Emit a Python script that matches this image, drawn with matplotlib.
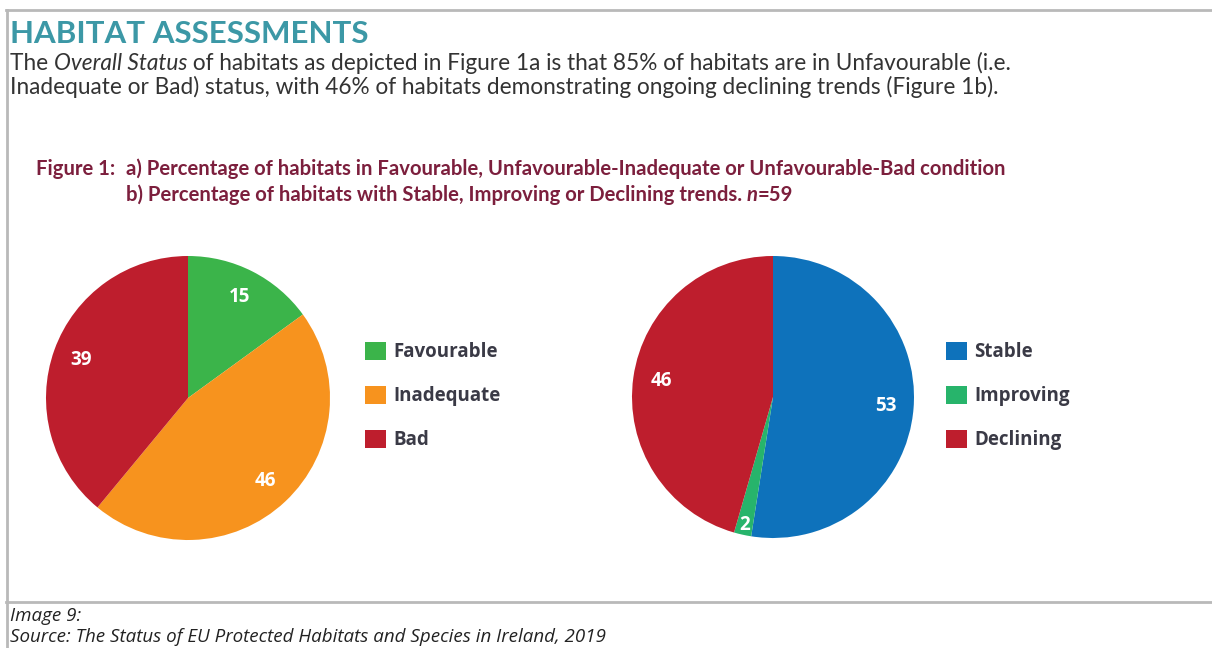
import matplotlib
matplotlib.use('Agg')
import matplotlib.pyplot as plt
from matplotlib.lines import Line2D
from matplotlib.patches import Patch
import numpy as np

# Figure 1a: overall status of habitats (%)
status_labels = ['Favourable', 'Inadequate', 'Bad']
status_values = [15, 46, 39]
status_colors = ['#3bb44a', '#f7931e', '#be1e2d']

# Figure 1b: habitat trends (%)
trend_labels = ['Stable', 'Improving', 'Declining']
trend_values = [53, 2, 46]
trend_colors = ['#0e72bb', '#27b46b', '#be1e2d']

W, H = 1212, 648
fig = plt.figure(figsize=(W / 100, H / 100), dpi=100)
fig.patch.set_facecolor('white')


def fx(px):
    return px / W


def fy(py):
    return 1 - py / H


def runs(x, y, parts, **kw):
    """Write a line made of differently styled pieces, one after the other."""
    r = fig.canvas.get_renderer()
    for s, extra in parts:
        opts = dict(kw)
        opts.update(extra)
        t = fig.text(x, y, s, va='baseline', ha='left', **opts)
        bb = t.get_window_extent(renderer=r)
        x = fx(bb.x1)


# frame lines
line_col = '#b9b9b9'
fig.add_artist(Line2D([fx(6), 1], [fy(10), fy(10)], color=line_col, lw=2))
fig.add_artist(Line2D([fx(7), fx(7)], [fy(10), 0], color=line_col, lw=2))
fig.add_artist(Line2D([fx(6), 1], [fy(602), fy(602)], color=line_col, lw=2))

# heading and intro text
fig.text(fx(10), fy(43), 'HABITAT ASSESSMENTS', family='Lato', weight='bold',
         fontsize=22.5, color='#3c98a6', va='baseline')

body = dict(family='Lato', fontsize=16.3, color='#333333')
runs(fx(10), fy(70), [('The ', {}), ('Overall Status', {'style': 'italic'}),
                      (' of habitats as depicted in Figure 1a is that 85% of habitats '
                       'are in Unfavourable (i.e.', {})], **body)
fig.text(fx(10), fy(94), 'Inadequate or Bad) status, with 46% of habitats demonstrating '
         'ongoing declining trends (Figure 1b).', va='baseline', **body)

cap = dict(family='Lato', weight='bold', fontsize=14.6, color='#7c1f3d')
fig.text(fx(36), fy(175), 'Figure 1:', va='baseline', **cap)
fig.text(fx(126), fy(175), 'a) Percentage of habitats in Favourable, '
         'Unfavourable-Inadequate or Unfavourable-Bad condition', va='baseline', **cap)
runs(fx(126), fy(201), [('b) Percentage of habitats with Stable, Improving or '
                         'Declining trends. ', {}), ('n', {'style': 'italic'}),
                        ('=59', {})], **cap)

# footer
foot = dict(family='Open Sans', style='italic', fontsize=13.5, color='#222222')
fig.text(fx(10), fy(621), 'Image 9:', va='baseline', **foot)
fig.text(fx(10), fy(642), 'Source: The Status of EU Protected Habitats and Species '
         'in Ireland, 2019', va='baseline', **foot)


def draw_pie(ax, values, colors, small_dist=0.93, dist=0.8):
    wedges, _ = ax.pie(values, colors=colors, startangle=90, counterclock=False,
                       wedgeprops=dict(linewidth=0))
    total = sum(values)
    for w, v in zip(wedges, values):
        ang = np.deg2rad((w.theta1 + w.theta2) / 2)
        d = small_dist if v / total < 0.05 else dist
        ax.text(d * np.cos(ang), d * np.sin(ang), str(v), ha='center', va='center',
                family='Open Sans', weight='bold', fontsize=13.5, color='white')
    ax.set_xlim(-1, 1)
    ax.set_ylim(-1, 1)
    ax.set_aspect('equal')
    return wedges


def draw_legend(labels, colors, x, y):
    handles = [Patch(facecolor=c, edgecolor='none') for c in colors]
    fig.legend(handles, labels, loc='upper left', bbox_to_anchor=(fx(x), fy(y)),
               frameon=False, handlelength=1.1, handleheight=1.1, handletextpad=0.4,
               labelspacing=1.25, borderpad=0, borderaxespad=0,
               prop=dict(family='Open Sans', weight='bold', size=13.5),
               labelcolor='#3a3a46')


ax1 = fig.add_axes([fx(46), fy(540), fx(284), 284 / H])
draw_pie(ax1, status_values, status_colors)
draw_legend(status_labels, status_colors, 365, 342)

ax2 = fig.add_axes([fx(632), fy(538), fx(282), 282 / H])
draw_pie(ax2, trend_values, trend_colors)
draw_legend(trend_labels, trend_colors, 946, 342)

fig.savefig('out.png', dpi=100, facecolor='white')
